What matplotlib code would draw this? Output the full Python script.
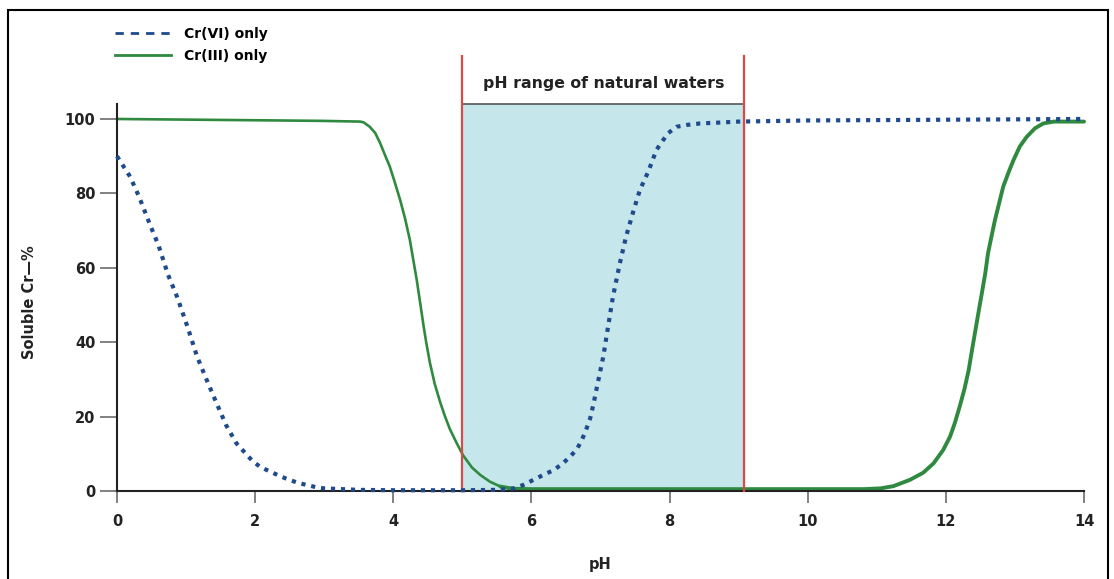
import matplotlib
matplotlib.use("Agg")
import matplotlib.pyplot as plt
from matplotlib.lines import Line2D
from matplotlib.patches import Rectangle

plt.rcParams['font.family'] = ['DejaVu Sans']
plt.rcParams['font.weight'] = 'bold'

# Cr(VI) solubility vs pH
ph_cr6 = [0.0, 0.19, 0.32, 0.48, 0.60, 0.74, 0.87, 1.02, 1.16, 1.28, 1.40,
          1.58, 1.73, 1.95, 2.07, 2.22, 2.36, 2.48, 2.62, 2.75, 2.89, 3.0,
          3.5, 4.0, 5.0, 5.5, 5.74, 5.88, 6.03, 6.17, 6.32, 6.44, 6.56, 6.66,
          6.73, 6.79, 6.85, 6.90, 6.94, 7.04, 7.11, 7.18, 7.28, 7.37, 7.48, 7.57,
          7.69, 7.81, 7.91, 7.98, 8.10, 8.25, 8.44, 8.68, 9.0, 10.0, 12.0, 14.0]
sol_cr6 = [90.0, 84.5, 79.1, 71.5, 66.1, 58.1, 52.2, 44.2, 36.1, 30.7, 25.4,
           17.7, 12.8, 8.3, 6.5, 5.2, 4.0, 3.1, 2.2, 1.6, 1.0, 0.7,
           0.3, 0.2, 0.2, 0.3, 0.7, 1.6, 3.0, 4.3, 5.6, 7.2, 9.2, 11.3,
           13.7, 16.4, 19.5, 23.5, 27.2, 36.1, 44.2, 52.2, 61.2, 68.4, 75.5, 80.9,
           85.8, 91.7, 94.4, 96.2, 97.9, 98.4, 98.8, 99.0, 99.3, 99.6, 99.8, 100.0]

# Cr(III) solubility vs pH
ph_cr3 = [0.0, 2.94, 3.52, 3.57, 3.66, 3.74, 3.81, 3.88, 3.95, 4.02, 4.10,
          4.17, 4.24, 4.29, 4.34, 4.39, 4.44, 4.48, 4.53, 4.60, 4.68, 4.75,
          4.82, 4.92, 5.01, 5.14, 5.26, 5.40, 5.55, 5.64, 5.73, 6.0, 8.0,
          10.0, 10.81, 11.05, 11.24, 11.48, 11.67, 11.82, 11.96, 12.06, 12.13,
          12.20, 12.27, 12.33, 12.37, 12.42, 12.47, 12.52, 12.57, 12.61, 12.66,
          12.71, 12.77, 12.83, 12.91, 12.98, 13.07, 13.17, 13.29, 13.41, 13.56,
          13.65, 14.0]
sol_cr3 = [100.0, 99.5, 99.3, 99.1, 97.9, 96.2, 93.5, 90.3, 87.2, 83.1, 78.2,
           73.3, 67.5, 62.1, 56.7, 50.5, 44.2, 39.6, 34.5, 28.8, 23.8, 20.0,
           16.6, 12.8, 9.6, 6.3, 4.3, 2.5, 1.2, 0.9, 0.6, 0.5, 0.5,
           0.5, 0.5, 0.7, 1.3, 3.0, 4.9, 7.4, 11.0, 14.6, 18.3,
           22.7, 27.5, 32.5, 37.0, 42.4, 47.8, 53.1, 58.5, 63.9, 68.4,
           72.8, 77.3, 81.8, 85.8, 89.0, 92.6, 95.2, 97.5, 98.8, 99.3,
           99.3, 99.3]

natural_range = (5.0, 9.08)
range_label = "pH range of natural waters"

blue = '#1f4a8c'
green = '#2f8a3f'
red = '#dc4a45'
text_col = '#222222'

fig = plt.figure(figsize=(11.14, 5.79), dpi=100)
ax = fig.add_axes([0.105, 0.152, 0.8681, 0.6682])
ax.set_xlim(0, 14)
ax.set_ylim(0, 104)

# shaded natural-waters band with red edges
lo, hi = natural_range
ax.axvspan(lo, hi, ymin=0, ymax=1, color='#c5e6ea', zorder=0)
ax.plot([lo, hi], [104, 104], color='#555555', lw=1.2, clip_on=False, zorder=1)
for x in natural_range:
    ax.plot([x, x], [0, 117], color=red, lw=1.6, clip_on=False, zorder=3)
ax.text((lo + hi) / 2, 109.5, range_label, ha='center', va='center',
        fontsize=11.3, fontweight='bold', color=text_col)

# Cr(III): thin on the falling limb, heavier once it reaches the baseline
split = next(i for i, p in enumerate(ph_cr3) if p >= 5.55)
ax.plot(ph_cr3[:split + 1], sol_cr3[:split + 1], color=green, lw=1.9,
        clip_on=False, zorder=2, solid_capstyle='round', solid_joinstyle='round')
ax.plot(ph_cr3[split:], sol_cr3[split:], color=green, lw=2.8,
        clip_on=False, zorder=2, solid_capstyle='round', solid_joinstyle='round')
ax.plot(ph_cr6, sol_cr6, color=blue, lw=3.0, linestyle=(0, (1, 1.4)),
        clip_on=False, zorder=4)

for side in ['top', 'right']:
    ax.spines[side].set_visible(False)
for side in ['left', 'bottom']:
    ax.spines[side].set_color(text_col)
    ax.spines[side].set_linewidth(1.5)

ax.set_xticks(range(0, 15, 2))
ax.set_yticks(range(0, 101, 20))
ax.tick_params(axis='x', direction='out', length=8.6, width=1.3,
               color='#777777', pad=8, labelsize=10.5, labelcolor=text_col)
ax.tick_params(axis='y', direction='out', length=12, width=1.3,
               color='#777777', pad=3.5, labelsize=10.5, labelcolor=text_col)
for lbl in ax.get_xticklabels() + ax.get_yticklabels():
    lbl.set_fontweight('bold')

fig.text(30 / 1114, 1 - 302 / 579, "Soluble Cr\u2014%", rotation=90,
         ha='center', va='center', fontsize=10.5, fontweight='bold', color=text_col)
fig.text(600 / 1114, 1 - 565 / 579, "pH", ha='center', va='center',
         fontsize=10.5, fontweight='bold', color=text_col)

handles = [Line2D([], [], color=blue, lw=2.0, linestyle=(0, (3, 2.5))),
           Line2D([], [], color=green, lw=2.0)]
fig.legend(handles, ["Cr(VI) only", "Cr(III) only"], loc='upper left',
           bbox_to_anchor=(108 / 1114, 1 - 20 / 579), frameon=False,
           borderpad=0, handlelength=4.0, handletextpad=1.0,
           labelspacing=0.55, prop={'size': 10, 'weight': 'bold'})

# outer frame
fig.patches.append(Rectangle((8 / 1114, -0.02), 1100 / 1114, 1 - 10 / 579 + 0.02,
                             transform=fig.transFigure, fill=False,
                             edgecolor='black', lw=1.5))

fig.savefig("out.png", dpi=100)
